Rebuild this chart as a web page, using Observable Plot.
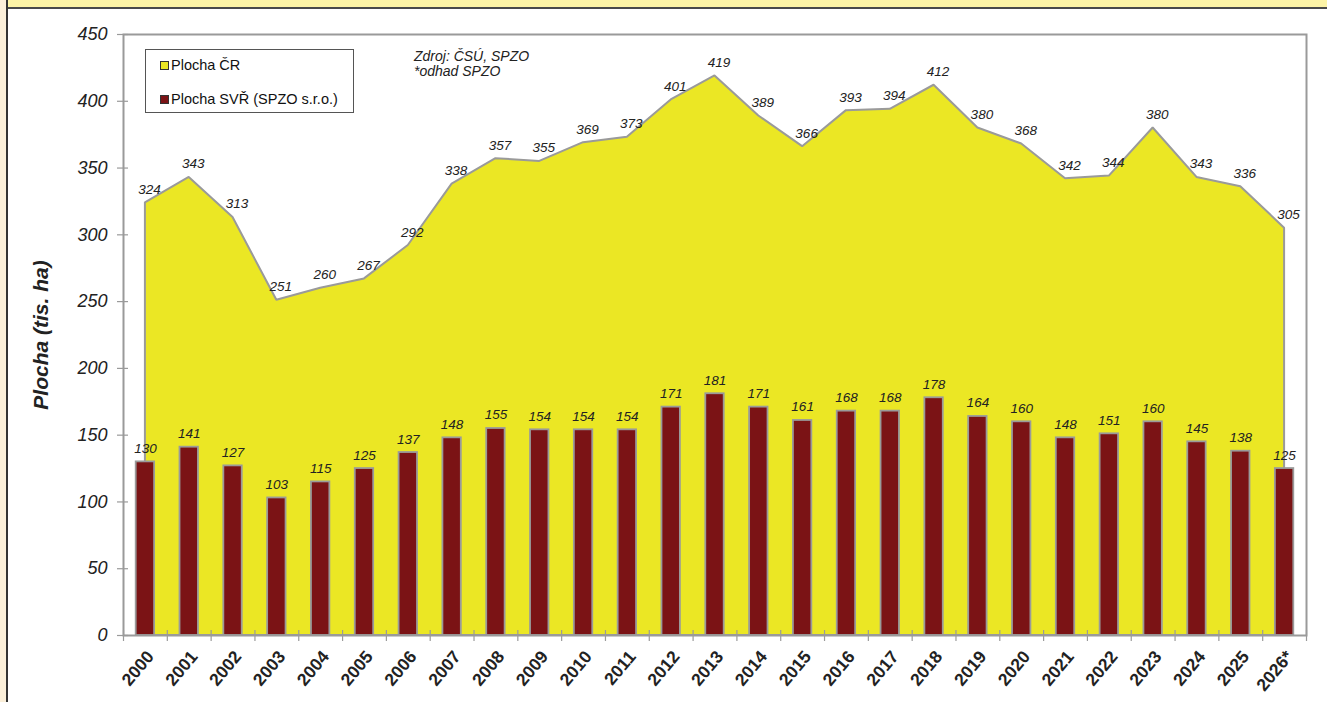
<!DOCTYPE html>
<html>
<head>
<meta charset="utf-8">
<script src="https://cdn.jsdelivr.net/npm/d3@7"></script>
<script src="https://cdn.jsdelivr.net/npm/@observablehq/plot@0.6"></script>
<style>
  html, body { margin: 0; padding: 0; background: #fff; }
  #wrap { position: relative; width: 1327px; height: 702px; overflow: hidden; background: #fff;
          font-family: "Liberation Sans", Arial, sans-serif; }
  #topstrip { position: absolute; left: 0; top: 0; width: 1327px; height: 7px; background: #fdf4a6;
              border-bottom: 2px solid #4a4a4a; }
  #leftstrip { position: absolute; left: 0; top: 0; width: 6px; height: 702px; background: #fbefd9;
               border-right: 2px solid #333; z-index: 2; }
  #chart { position: absolute; left: 0; top: 0; }
  #legend { position: absolute; left: 145px; top: 49px; width: 207px; height: 62px; background: #fff;
            border: 1px solid #555; z-index: 3; font-size: 14.5px; color: #111; }
  .item { position: absolute; left: 14px; display: flex; align-items: center; white-space: nowrap; }
  .sw { width: 7px; height: 7px; border: 1px solid #333; margin-right: 2px; }
  #source { position: absolute; left: 414px; top: 49px; font-size: 14px; font-style: italic; line-height: 15px;
            color: #222; z-index: 3; }
</style>
</head>
<body>
<div id="wrap">
  <div id="chart"></div>
  <div id="topstrip"></div>
  <div id="leftstrip"></div>
  <div id="legend">
    <div class="item" style="top:7px"><span class="sw" style="background:#ebe724"></span>Plocha ČR</div>
    <div class="item" style="top:41px"><span class="sw" style="background:#7b1315"></span>Plocha SVŘ (SPZO s.r.o.)</div>
  </div>
  <div id="source">Zdroj: ČSÚ, SPZO<br>*odhad SPZO</div>
</div>
<script>
const years = ["2000","2001","2002","2003","2004","2005","2006","2007","2008","2009","2010","2011","2012","2013","2014","2015","2016","2017","2018","2019","2020","2021","2022","2023","2024","2025","2026*"];
const plochaCR = [324,343,313,251,260,267,292,338,357,355,369,373,401,419,389,366,393,394,412,380,368,342,344,380,343,336,305];
const plochaSVR = [130,141,127,103,115,125,137,148,155,154,154,154,171,181,171,161,168,168,178,164,160,148,151,160,145,138,125];
const yTicks = [0,50,100,150,200,250,300,350,400,450];

const data = years.map((y, i) => ({i, year: y, cr: plochaCR[i], svr: plochaSVR[i]}));
const boundaries = d3.range(years.length + 1).map(k => k - 0.5);

const W = 1327, H = 702;
const mL = 123, mR = 21, mT = 34, mB = 67;
const pw = W - mL - mR, ph = H - mT - mB;
const halfBar = 0.21;

const gray = "#9a9a9a";
const yellow = "#ebe724";
const red = "#7b1315";

const chart = Plot.plot({
  width: W, height: H,
  marginLeft: mL, marginRight: mR, marginTop: mT, marginBottom: mB,
  style: { fontFamily: "'Liberation Sans', Arial, sans-serif", background: "transparent", color: "#222" },
  x: { type: "linear", domain: [-0.5, years.length - 0.5], axis: null },
  y: { domain: [0, 450], axis: null },
  marks: [
    Plot.areaY(data, { x: "i", y: "cr", fill: yellow, stroke: gray, strokeWidth: 2, strokeLinejoin: "miter" }),
    Plot.rectY(data, { x1: d => d.i - halfBar, x2: d => d.i + halfBar, y: "svr", fill: red, stroke: gray, strokeWidth: 1.8 }),
    Plot.text(data, { x: "i", y: "cr", text: d => String(d.cr), dy: -9, dx: 4, lineAnchor: "bottom",
      fontSize: 13.5, fontStyle: "italic", fill: "#222" }),
    Plot.text(data, { x: "i", y: "svr", text: d => String(d.svr), dy: -9, lineAnchor: "bottom",
      fontSize: 13.5, fontStyle: "italic", fill: "#222" }),
    Plot.frame({ stroke: gray, strokeWidth: 2 }),
    // y ticks (crossing the axis)
    Plot.ruleY(yTicks, { y: d => d, stroke: gray, strokeWidth: 1.2, insetLeft: -6, insetRight: pw - 5 }),
    // x ticks at category boundaries (crossing the axis)
    Plot.ruleX(boundaries, { x: d => d, stroke: gray, strokeWidth: 1.2, insetTop: ph - 5, insetBottom: -6 }),
    // y tick labels
    Plot.text(yTicks, { y: d => d, text: d => String(d), frameAnchor: "left", dx: -16, textAnchor: "end",
      fontSize: 18, fontStyle: "italic", fill: "#222" }),
    // x category labels
    Plot.text(data, { x: "i", text: "year", frameAnchor: "bottom", dy: 18, dx: 5, rotate: -50,
      textAnchor: "end", lineAnchor: "middle", fontSize: 17.5, fontWeight: "bold", fill: "#222" }),
    // y axis title
    Plot.text(["Plocha (tis. ha)"], { frameAnchor: "left", dx: -82, rotate: -90, textAnchor: "middle",
      lineAnchor: "middle", fontSize: 21, fontWeight: "bold", fontStyle: "italic", fill: "#222" })
  ]
});
document.getElementById("chart").appendChild(chart);
</script>
</body>
</html>
